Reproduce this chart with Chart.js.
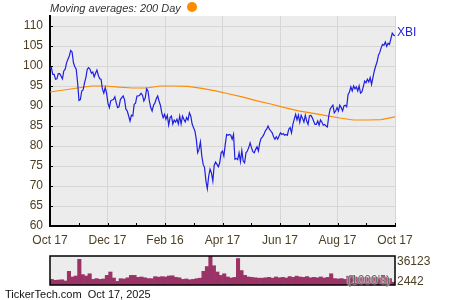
<!DOCTYPE html>
<html>
<head>
<meta charset="utf-8">
<script src="https://cdn.jsdelivr.net/npm/chart.js@4"></script>
<style>
  body { margin: 0; background: #fff; font-family: 'Liberation Sans', Arial, sans-serif; }
  #quadro { position: relative; width: 450px; height: 300px; overflow: hidden; }
  canvas { position: absolute; left: 0; }
  .txt { position: absolute; white-space: nowrap; }
  #legenda { left: 50px; top: 1px; font-size: 11px; font-style: italic; color: #333; line-height: 14px; }
  #bola { position: absolute; left: 187px; top: 2px; width: 10px; height: 10px; border-radius: 50%; background: #ff8c00; }
  #nome { left: 397px; top: 25px; font-size: 12px; color: #1f1fe0; }
  .vol { left: 397px; font-size: 12px; color: #4d3f22; }
  #mil { left: 347px; top: 273px; font-size: 12px; color: #5d6e5d; text-shadow: 0 0 2px #fff, 0 0 2px #fff; }
  #rodape { left: 5px; top: 288px; font-size: 11px; color: #111; }
</style>
</head>
<body>
<div id="quadro">
  <canvas id="precos" width="450" height="250" style="top:0"></canvas>
  <canvas id="volume" width="450" height="50" style="top:250px"></canvas>
  <div class="txt" id="legenda">Moving averages: 200 Day</div>
  <div id="bola"></div>
  <div class="txt" id="nome"></div>
  <div class="txt vol" id="volMax" style="top:254px"></div>
  <div class="txt vol" id="volMin" style="top:274px"></div>
  <div class="txt" id="mil">(1000's)</div>
  <div class="txt" id="rodape">TickerTech.com&nbsp;&nbsp;Oct 17, 2025</div>
</div>
<script>
const simbolo = 'XBI';
const rotulosX = ['Oct 17', 'Dec 17', 'Feb 16', 'Apr 17', 'Jun 17', 'Aug 17', 'Oct 17'];

// fechamento diario (251 pregoes)
const fechamento = [
  99.3, 99.6, 97.9, 97.9, 96.7, 96.8, 98.1, 98.1, 97.5, 96.8, 98.75, 99.2, 100.8, 101.7, 102.5, 103.9,
  103.5, 100.8, 99.8, 99.2, 95.8, 91.4, 91.6, 93.75, 94.0, 95.8, 97.1, 99.2, 99.6, 99.2, 98.2, 98.5,
  97.3, 98.2, 99.0, 97.7, 96.8, 96.7, 94.2, 93.2, 94.6, 93.2, 90.7, 89.6, 91.3, 91.5, 91.6, 92.3,
  90.8, 89.6, 89.8, 91.6, 92.1, 92.5, 91.6, 89.2, 88.75, 87.5, 86.25, 87.7, 87.5, 90.4, 90.7,
  92.5, 92.5, 92.7, 93.2, 92.7, 91.25, 92.0, 94.3, 93.75, 91.25, 89.6, 88.75, 90.2, 90.7, 91.8, 92.5,
  91.25, 90.2, 88.3, 87.1, 87.9, 86.7, 87.7, 85.25, 87.1, 87.5, 85.5, 86.5, 86.0, 86.7, 85.5, 87.5,
  85.5, 87.5, 86.7, 86.0, 87.1, 86.5, 88.3, 87.5, 85.5, 84.6, 83.75, 81.7, 78.3, 79.2, 81.0, 77.5,
  75.4, 74.6, 71.25, 69.3, 72.5, 74.2, 73.3, 71.25, 75.2, 76.0, 75.4, 74.8, 75.8, 78.3, 78.75,
  77.5, 80.4, 82.9, 82.7, 82.9, 82.7, 81.7, 82.9, 76.7, 76.9, 76.6, 78.3, 76.1, 78.9, 76.25, 75.8,
  78.3, 78.75, 79.6, 80.8, 79.6, 78.6, 78.3, 79.2, 79.8, 78.75, 80.8, 81.9, 82.3, 82.9, 83.75, 84.2,
  85.0, 84.2, 83.75, 83.3, 82.3, 81.7, 82.3, 81.7, 82.5, 83.3, 82.9, 83.1, 82.7, 82.9, 82.7, 84.2,
  84.6, 83.3, 85.4, 86.7, 87.9, 86.5, 87.7, 85.9, 87.7, 86.9, 86.0, 87.7, 86.25, 85.4, 87.5, 87.7,
  87.1, 86.25, 85.4, 85.4, 86.25, 85.2, 86.5, 86.0, 85.2, 85.4, 85.0, 84.75, 87.5, 89.2, 89.8, 90.2,
  88.3, 88.75, 89.6, 88.75, 90.2, 89.6, 88.75, 90.0, 90.2, 89.8, 92.9, 93.5, 94.8, 93.75, 95.0, 94.3,
  94.8, 93.75, 95.0, 93.2, 93.5, 94.8, 96.25, 95.8, 96.7, 96.0, 97.1, 95.4, 97.1, 98.75, 100.0, 101.0,
  102.7, 103.4, 104.6, 105.4, 105.2, 106.0, 104.9, 105.7, 105.4, 106.8, 108.2, 107.7, 107.6
];

// media movel de 200 dias, a cada 10 pregoes
const media200 = [
  93.5, 94.0, 94.5, 95.0, 95.0, 94.7, 94.5, 94.5, 95.0, 95.0, 94.9, 94.4, 93.8,
  93.0, 92.2, 91.3, 90.5, 89.6, 88.8, 88.2, 87.6, 87.0, 86.5, 86.5, 86.6, 87.3
];

// volume (milhares), blocos de ~2,5 pregoes
const volume = [
  7000, 5800, 6200, 6500, 5000, 17000, 10000, 11200, 32000, 12900, 11200, 14000, 7000, 8000, 7000, 7500,
  12000, 16200, 8700, 4500, 7900, 7500, 9000, 12000, 12000, 9500, 10000, 9000, 8000, 7900, 10400, 9800,
  10400, 10000, 11200, 11500, 9500, 9000, 7000, 7500, 6500, 7000, 7900, 8500, 17000, 23000, 36123, 24000,
  16200, 12000, 14000, 10000, 8700, 9500, 33000, 18000, 12000, 10000, 9500, 9000, 8500, 8500, 9000, 9500,
  8500, 10000, 9000, 9500, 8700, 10500, 9500, 11000, 10000, 9500, 10500, 9000, 9500, 9000, 10000, 8700,
  9500, 14000, 8000, 7500, 8000, 7000, 11000, 12000, 10000, 9000, 10000, 9500, 9000, 10000, 9500, 9000,
  12000, 10000, 8000, 3500
];
const volRotulos = [36123, 2442];

const corTexto = '#4d3f22';
const fonte = { family: "'Liberation Sans', Arial, sans-serif", size: 12 };

document.getElementById('nome').textContent = simbolo;
document.getElementById('volMax').textContent = volRotulos[0];
document.getElementById('volMin').textContent = volRotulos[1];

const fundo = {
  id: 'fundo',
  beforeDraw(chart) {
    const a = chart.chartArea, c = chart.ctx;
    c.save();
    c.fillStyle = '#ececec';
    c.fillRect(a.left, a.top, a.right - a.left, a.bottom - a.top);
    c.restore();
  }
};

// marcas curtas para dentro da area do grafico
const marcas = {
  id: 'marcas',
  afterDraw(chart) {
    const a = chart.chartArea, c = chart.ctx;
    c.save();
    c.strokeStyle = '#000';
    c.lineWidth = 1;
    c.beginPath();
    chart.scales.y.ticks.forEach(t => {
      const y = Math.round(chart.scales.y.getPixelForValue(t.value)) + 0.5;
      c.moveTo(a.left, y); c.lineTo(a.left + 3, y);
    });
    chart.scales.x.ticks.forEach(t => {
      const x = Math.round(chart.scales.x.getPixelForValue(t.value)) + 0.5;
      c.moveTo(x, a.bottom); c.lineTo(x, a.bottom - 3);
    });
    c.stroke();
    c.restore();
  }
};

new Chart(document.getElementById('precos'), {
  type: 'line',
  data: {
    datasets: [
      {
        label: simbolo,
        data: fechamento.map((v, i) => ({ x: i * 12 / (fechamento.length - 1), y: v })),
        borderColor: '#1f1fe0',
        borderWidth: 1.2,
        pointRadius: 0,
        tension: 0
      },
      {
        label: '200 Day',
        data: media200.map((v, i) => ({ x: i * 12 / (media200.length - 1), y: v })),
        borderColor: '#ff8c00',
        borderWidth: 1.2,
        pointRadius: 0,
        tension: 0
      }
    ]
  },
  options: {
    responsive: false,
    animation: false,
    layout: { padding: { top: 16, right: 55, left: 0, bottom: 0 } },
    plugins: { legend: { display: false }, tooltip: { enabled: false } },
    scales: {
      x: {
        type: 'linear',
        min: 0,
        max: 12,
        afterFit: s => { s.height = 24; },
        ticks: {
          stepSize: 1,
          autoSkip: false,
          maxRotation: 0,
          padding: 7,
          color: corTexto,
          font: fonte,
          callback: v => (v % 2 === 0 ? rotulosX[v / 2] : '')
        },
        grid: {
          drawTicks: false,
          color: ctx => (ctx.tick && ctx.tick.value % 2 === 0 ? '#d6d6d6' : 'rgba(0,0,0,0)')
        },
        border: { color: '#000', width: 2 }
      },
      y: {
        min: 60,
        max: 112.5,
        afterFit: s => { s.width = 50; },
        ticks: {
          stepSize: 2.5,
          padding: 7,
          color: corTexto,
          font: fonte,
          callback: v => (v % 5 === 0 ? v : '')
        },
        grid: {
          drawTicks: false,
          color: ctx => (ctx.tick && ctx.tick.value % 5 === 0 ? '#d6d6d6' : 'rgba(0,0,0,0)')
        },
        border: { color: '#000', width: 2 }
      }
    }
  },
  plugins: [fundo, marcas]
});

new Chart(document.getElementById('volume'), {
  type: 'bar',
  data: {
    labels: volume.map((_, i) => i),
    datasets: [{
      data: volume,
      backgroundColor: '#9b3366',
      borderWidth: 0,
      barPercentage: 1,
      categoryPercentage: 1
    }]
  },
  options: {
    responsive: false,
    animation: false,
    layout: { padding: { top: 6, right: 55, left: 50, bottom: 15 } },
    plugins: { legend: { display: false }, tooltip: { enabled: false } },
    scales: {
      x: { display: false },
      y: { display: false, min: 0, max: volRotulos[0] }
    }
  },
  plugins: [fundo, {
    id: 'moldura',
    afterDraw(chart) {
      const a = chart.chartArea, c = chart.ctx;
      c.save();
      c.strokeStyle = '#000';
      c.lineWidth = 1.5;
      c.strokeRect(a.left, a.top, a.right - a.left, a.bottom - a.top);
      c.restore();
    }
  }]
});
</script>
</body>
</html>
